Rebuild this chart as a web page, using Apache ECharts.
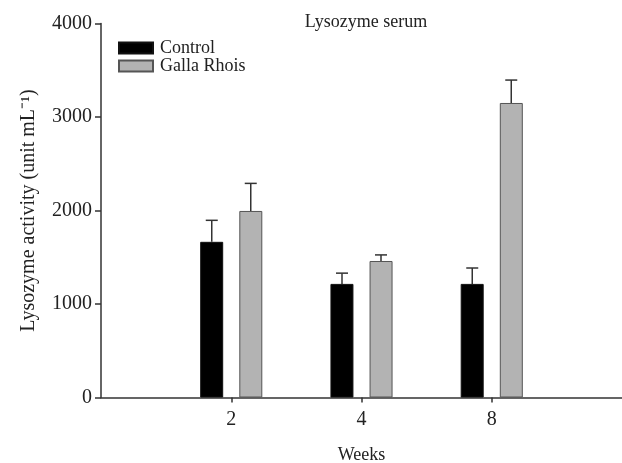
<!DOCTYPE html>
<html>
<head>
<meta charset="utf-8">
<script src="https://cdn.jsdelivr.net/npm/echarts@6/dist/echarts.min.js"></script>
<style>
  html, body { margin: 0; padding: 0; background: #fff; }
  #chart { width: 622px; height: 463px; }
</style>
</head>
<body>
<div id="chart"></div>
<script>
// weeks shown on the x axis, bars sit at positions 1..n
var weeks = ["2", "4", "8"];
var positions = [1, 2, 3];
var control = [1665, 1215, 1215];
var controlErr = [230, 115, 170];
var galla = [1995, 1460, 3150];
var gallaErr = [295, 65, 245];
var yTicks = [0, 1000, 2000, 3000, 4000];

var font = "'Liberation Serif', 'Times New Roman', serif";
var barW = 23;
var offset = 19.5; // half distance between paired bar centres

function errorSeries(vals, errs, dx) {
  return {
    type: "custom",
    silent: true,
    z: 1,
    data: positions.map(function (p, i) {
      return [p, vals[i], vals[i] + errs[i]];
    }),
    renderItem: function (params, api) {
      var base = api.coord([api.value(0), api.value(1)]);
      var top = api.coord([api.value(0), api.value(2)]);
      var x = base[0] + dx;
      return {
        type: "group",
        children: [
          {
            type: "line",
            shape: { x1: x, y1: base[1], x2: x, y2: top[1] },
            style: { stroke: "#333", lineWidth: 1.5 },
          },
          {
            type: "line",
            shape: { x1: x - 6, y1: top[1], x2: x + 6, y2: top[1] },
            style: { stroke: "#333", lineWidth: 1.5 },
          },
        ],
      };
    },
  };
}

var chart = echarts.init(document.getElementById("chart"));
chart.setOption({
  animation: false,
  textStyle: { fontFamily: font },
  title: {
    text: "Lysozyme serum",
    left: 361,
    top: 8,
    textAlign: "center",
    textStyle: { fontFamily: font, fontSize: 18, fontWeight: "normal", color: "#222" },
  },
  legend: {
    orient: "vertical",
    left: 113,
    top: 34,
    itemWidth: 34,
    itemHeight: 11,
    itemGap: 0,
    icon: "rect",
    data: ["Control", "Galla Rhois"],
    textStyle: { fontFamily: font, fontSize: 18, color: "#222", padding: [0, 0, 0, 2] },
  },
  grid: { left: 101, right: 0, top: 23.5, bottom: 65.5, outerBoundsMode: "none", containLabel: false },
  xAxis: {
    type: "value",
    min: 0,
    max: 4,
    interval: 1,
    name: "Weeks",
    nameLocation: "middle",
    nameGap: 49,
    nameTextStyle: { fontFamily: font, fontSize: 18, color: "#222" },
    splitLine: { show: false },
    axisLine: { show: true, lineStyle: { color: "#333", width: 1.5 } },
    axisTick: { show: true, length: 5, customValues: positions, lineStyle: { color: "#333", width: 1.5 } },
    axisLabel: {
      customValues: positions,
      margin: 12,
      fontFamily: font,
      fontSize: 20,
      color: "#222",
      formatter: function (v) {
        return weeks[positions.indexOf(v)];
      },
    },
  },
  yAxis: {
    type: "value",
    min: yTicks[0],
    max: yTicks[yTicks.length - 1],
    interval: 1000,
    name: "Lysozyme activity (unit mL\u207B\u00B9)",
    nameLocation: "middle",
    nameGap: 62,
    nameTextStyle: { fontFamily: font, fontSize: 20, color: "#222" },
    splitLine: { show: false },
    axisLine: { show: true, lineStyle: { color: "#333", width: 1.5 } },
    axisTick: { show: true, length: 6, lineStyle: { color: "#333", width: 1.5 } },
    axisLabel: {
      margin: 9,
      fontFamily: font,
      fontSize: 20,
      color: "#222",
      formatter: function (v) { return String(v); },
    },
  },
  series: [
    {
      name: "Control",
      type: "bar",
      barWidth: barW,
      barGap: "70%",
      z: 2,
      itemStyle: { color: "#000", borderColor: "#111", borderWidth: 1 },
      data: positions.map(function (p, i) { return [p, control[i]]; }),
    },
    {
      name: "Galla Rhois",
      type: "bar",
      barWidth: barW,
      barGap: "70%",
      z: 2,
      itemStyle: { color: "#b3b3b3", borderColor: "#555", borderWidth: 1 },
      data: positions.map(function (p, i) { return [p, galla[i]]; }),
    },
    errorSeries(control, controlErr, -offset),
    errorSeries(galla, gallaErr, offset),
  ],
});
</script>
</body>
</html>
